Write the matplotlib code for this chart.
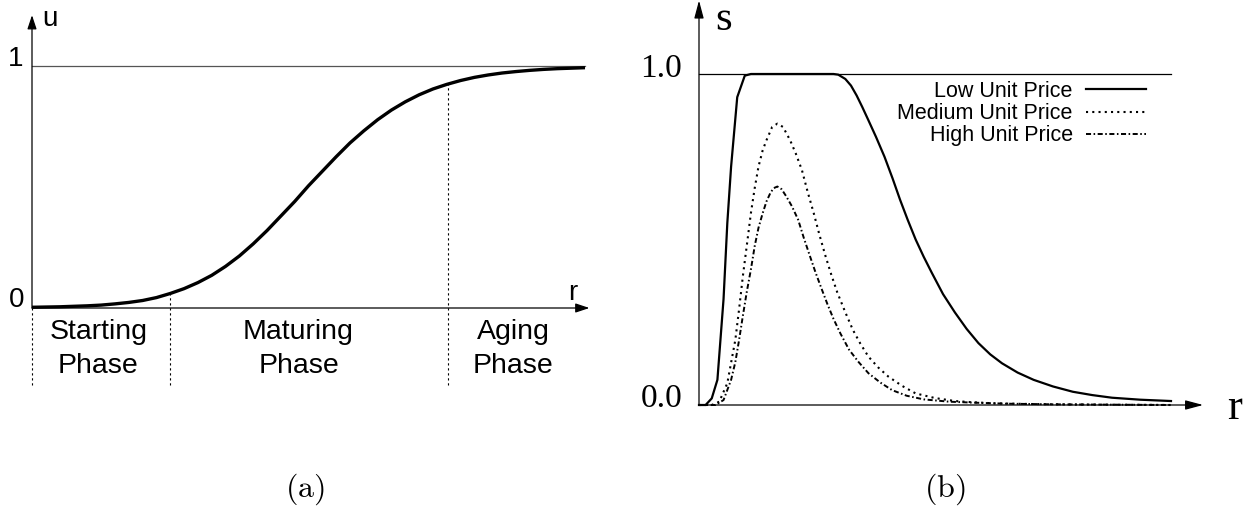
import matplotlib
matplotlib.use("Agg")
import matplotlib.pyplot as plt

plt.rcParams['mathtext.fontset'] = 'cm'

W, H = 1255, 509

# ---- data (panel a) ----
u_r = [0.0, 0.25, 0.5, 0.75, 1.0, 1.25, 1.5, 1.75, 2.0, 2.25, 2.5, 2.75, 3.0, 3.25,
       3.5, 3.75, 4.0, 4.25, 4.5, 4.75, 5.0, 5.25, 5.5, 5.75, 6.0, 6.25, 6.5, 6.75,
       7.0, 7.25, 7.5, 7.75, 8.0, 8.25, 8.5, 8.75, 9.0, 9.25, 9.5, 9.75, 10.0]
u_val = [0.003, 0.004, 0.005, 0.007, 0.009, 0.012, 0.017, 0.023, 0.031, 0.043, 0.060,
         0.080, 0.105, 0.135, 0.172, 0.215, 0.265, 0.320, 0.380, 0.440, 0.505, 0.565,
         0.625, 0.682, 0.732, 0.778, 0.818, 0.852, 0.881, 0.905, 0.924, 0.940, 0.953,
         0.963, 0.971, 0.977, 0.982, 0.986, 0.989, 0.991, 0.993]
phase_bounds = [0.0, 2.5, 7.52]
phase_names = [("Starting", "Phase"), ("Maturing", "Phase"), ("Aging", "Phase")]
phase_centers = [1.2, 4.82, 8.7]

# ---- data (panel b) ----
low_r = [0.0, 0.14, 0.27, 0.39, 0.52, 0.60, 0.68, 0.81, 0.97, 1.1, 2.85, 2.95, 3.1,
         3.22, 3.34, 3.46, 3.59, 3.75, 3.93, 4.1, 4.26, 4.42, 4.59, 4.76, 4.93, 5.17,
         5.42, 5.67, 5.92, 6.17, 6.42, 6.75, 7.09, 7.5, 7.92, 8.33, 8.75, 9.35, 10.0]
low_s = [0.0, 0.0, 0.02, 0.076, 0.32, 0.55, 0.72, 0.93, 0.995, 1.0, 1.0, 0.998, 0.985,
         0.965, 0.935, 0.90, 0.86, 0.81, 0.75, 0.685, 0.62, 0.56, 0.50, 0.448, 0.40,
         0.335, 0.28, 0.23, 0.187, 0.153, 0.126, 0.098, 0.076, 0.056, 0.04, 0.03,
         0.022, 0.016, 0.012]
med_r = [0.0, 0.27, 0.43, 0.6, 0.77, 0.85, 0.93, 1.02, 1.1, 1.18, 1.26, 1.35, 1.43,
         1.55, 1.66, 1.78, 1.93, 2.05, 2.18, 2.3, 2.43, 2.55, 2.68, 2.8, 2.93, 3.1,
         3.26, 3.42, 3.59, 3.8, 4.01, 4.3, 4.59, 5.0, 5.42, 5.84, 6.26, 7.0, 8.0, 10.0]
med_s = [0.0, 0.0, 0.01, 0.066, 0.197, 0.29, 0.39, 0.49, 0.58, 0.655, 0.72, 0.77, 0.80,
         0.84, 0.85, 0.84, 0.80, 0.76, 0.71, 0.645, 0.58, 0.515, 0.45, 0.395, 0.34,
         0.28, 0.227, 0.185, 0.146, 0.113, 0.086, 0.058, 0.035, 0.021, 0.012, 0.008,
         0.005, 0.003, 0.0015, 0.0]
high_r = [0.0, 0.35, 0.52, 0.68, 0.77, 0.85, 0.93, 1.01, 1.1, 1.18, 1.26, 1.35, 1.43,
          1.51, 1.58, 1.66, 1.75, 1.85, 1.97, 2.1, 2.22, 2.35, 2.47, 2.6, 2.72, 2.85,
          3.0, 3.18, 3.38, 3.59, 3.84, 4.09, 4.4, 4.76, 5.3, 5.84, 6.5, 7.5, 10.0]
high_s = [0.0, 0.0, 0.015, 0.076, 0.13, 0.197, 0.27, 0.34, 0.41, 0.48, 0.535, 0.58,
          0.615, 0.64, 0.655, 0.66, 0.652, 0.63, 0.60, 0.56, 0.505, 0.45, 0.40, 0.35,
          0.305, 0.26, 0.215, 0.167, 0.13, 0.096, 0.068, 0.045, 0.028, 0.017, 0.01,
          0.007, 0.004, 0.002, 0.0]
series_labels = ["Low Unit Price", "Medium Unit Price", "High Unit Price"]

SANS = ['Liberation Sans', 'DejaVu Sans']
SERIF = ['Liberation Serif', 'DejaVu Serif']

fig = plt.figure(figsize=(W / 100, H / 100), dpi=100)


def rect(x0, y0, x1, y1):
    # pixel box (top-left origin) -> figure fraction rect
    return [x0 / W, (H - y1) / H, (x1 - x0) / W, (y1 - y0) / H]


# ================= panel (a) =================
axa = fig.add_axes(rect(32, 66, 585, 308))
axa.set_xlim(0, 10)
axa.set_ylim(0, 1)
axa.axis('off')

arrow_a = dict(arrowstyle='-|>,head_length=0.6,head_width=0.2', color='k', lw=0.9,
               mutation_scale=14, shrinkA=0, shrinkB=0)
axa.annotate('', xy=(10.08, 0), xytext=(0, 0), arrowprops=arrow_a, annotation_clip=False)
axa.annotate('', xy=(0, 1.21), xytext=(0, 0), arrowprops=arrow_a, annotation_clip=False)
axa.plot([0, 10], [1, 1], color='#555555', lw=0.9, clip_on=False)
axa.plot(u_r, u_val, color='k', lw=2.4, solid_capstyle='butt', clip_on=False, zorder=3)

for b in phase_bounds:
    top = 0.0 if b == 0 else u_val[min(range(len(u_r)), key=lambda i: abs(u_r[i] - b))]
    axa.plot([b, b], [-0.32, top], color='k', lw=0.8, ls=(0, (2, 2.5)), clip_on=False)

for (l1, l2), cx in zip(phase_names, phase_centers):
    axa.text(cx, -0.128, l1, ha='center', va='baseline', fontsize=20.5, family=SANS)
    axa.text(cx, -0.268, l2, ha='center', va='baseline', fontsize=20.5, family=SANS)

axa.text(0.18, 1.165, 'u', ha='left', va='baseline', fontsize=20, family=SANS)
axa.text(-0.15, 1.0, '1', ha='right', va='baseline', fontsize=20, family=SANS)
axa.text(-0.13, 0.004, '0', ha='right', va='baseline', fontsize=20, family=SANS)
axa.text(9.78, 0.035, 'r', ha='center', va='baseline', fontsize=20, family=SANS)

# ================= panel (b) =================
axb = fig.add_axes(rect(699, 74, 1171, 405))
axb.set_xlim(0, 10)
axb.set_ylim(0, 1)
axb.axis('off')

arrow_b = dict(arrowstyle='-|>,head_length=0.6,head_width=0.16', color='k', lw=0.9,
               mutation_scale=18, shrinkA=0, shrinkB=0)
axb.annotate('', xy=(10.68, 0), xytext=(0, 0), arrowprops=arrow_b, annotation_clip=False)
axb.annotate('', xy=(0, 1.222), xytext=(0, 0), arrowprops=arrow_b, annotation_clip=False)
axb.plot([0, 10], [1, 1], color='k', lw=0.9, clip_on=False)

l_low, = axb.plot(low_r, low_s, color='k', lw=1.6, clip_on=False, label=series_labels[0])
l_med, = axb.plot(med_r, med_s, color='k', lw=1.5, ls=(0, (1, 2)), clip_on=False,
                  label=series_labels[1])
l_high, = axb.plot(high_r, high_s, color='k', lw=1.4, ls=(0, (2.6, 1.3, 0.8, 1.3)),
                   clip_on=False, label=series_labels[2])

axb.text(-0.36, 0.991, '1.0', ha='right', va='baseline', fontsize=24, family=SERIF)
axb.text(-0.36, -0.006, '0.0', ha='right', va='baseline', fontsize=24, family=SERIF)
axb.text(0.34, 1.133, 's', ha='left', va='baseline', fontsize=31, family=SERIF)
axb.text(11.19, -0.042, 'r', ha='left', va='baseline', fontsize=32, family=SERIF)

leg = fig.legend(handles=[l_low, l_med, l_high], loc='upper right',
                 bbox_to_anchor=(1146 / W, (H - 81) / H), frameon=False,
                 markerfirst=False, handlelength=2.8, handletextpad=0.6,
                 labelspacing=0.05, borderpad=0, borderaxespad=0,
                 prop={'family': SANS, 'size': 15.5})
for t in leg.get_texts():
    t.set_ha('right')

# ================= captions =================
fig.text(305 / W, (H - 489) / H, r'$\mathrm{(a)}$', ha='center', va='center', fontsize=23)
fig.text(945 / W, (H - 489) / H, r'$\mathrm{(b)}$', ha='center', va='center', fontsize=23)

fig.savefig('out.png', dpi=100, facecolor='white')
